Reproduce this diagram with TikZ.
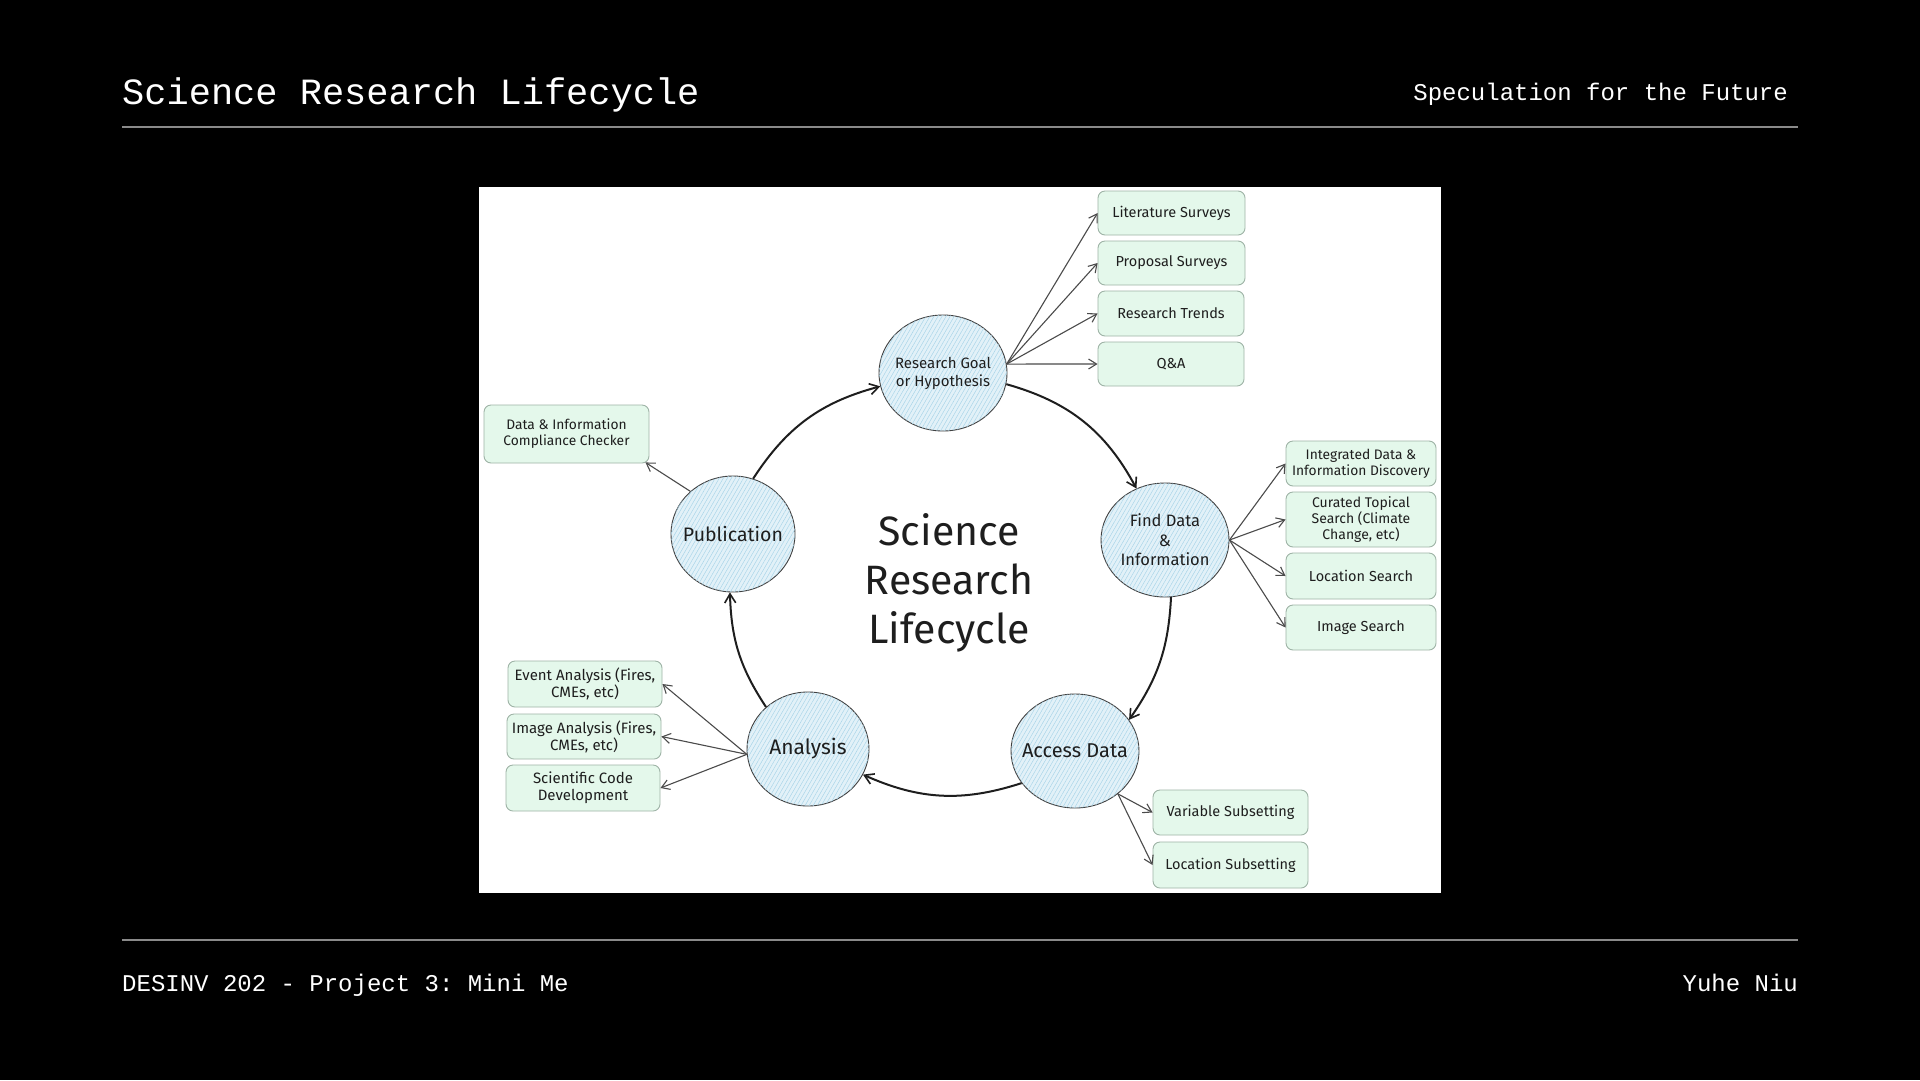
\documentclass[tikz,border=0pt]{standalone}
\usepackage{fontspec}
\setmonofont{Liberation Mono}
\newfontfamily\handfont{Fira Sans}
\usetikzlibrary{arrows.meta,patterns.meta,shapes.geometric}
\definecolor{cfill}{HTML}{E2F1F8}
\definecolor{hatch}{HTML}{A6D3E8}
\definecolor{bfill}{HTML}{E4F8EB}
\definecolor{bdraw}{HTML}{9EB3A6}
\definecolor{ink}{HTML}{1E1E1E}
\definecolor{rule}{HTML}{8A8A8A}
\tikzset{
  circ/.style={ellipse, draw=ink!85, line width=0.9, fill=cfill, inner sep=-16pt,
    minimum width=128, minimum height=114, align=center, text=ink,
    postaction={pattern={Lines[angle=60,distance=3.5pt,line width=0.45pt]}, pattern color=hatch}},
  box/.style={draw=bdraw, line width=0.9, fill=bfill, rounded corners=7, align=center,
    text=ink, inner sep=0pt, font=\handfont\fontsize{14.5}{17}\selectfont},
  cyc/.style={draw=ink, line width=2, -{Straight Barb[length=9pt,width=11pt,line width=1.6pt]}},
  fan/.style={draw=ink!80, line width=1.1, -{Straight Barb[length=8pt,width=10pt,line width=1.1pt]}},
  hdr/.style={text=white, inner sep=0pt}
}
\begin{document}
\begin{tikzpicture}[x=1pt,y=-1pt]
\fill[black] (0,0) rectangle (1920,1080);
\useasboundingbox (0,0) rectangle (1920,1080);
% header / footer
\node[hdr, anchor=base west, font=\ttfamily\fontsize{37}{40}\selectfont] (title) at (122,104) {Science Research Lifecycle};
\node[hdr, anchor=base east, font=\ttfamily\fontsize{24}{28}\selectfont] (sub) at (1788,100) {Speculation for the Future};
\draw[rule, line width=1.3] (122,127) -- (1798,127);
\draw[rule, line width=1.3] (122,940) -- (1798,940);
\node[hdr, anchor=base west, font=\ttfamily\fontsize{24}{28}\selectfont] (foot) at (122,991) {DESINV 202 - Project 3: Mini Me};
\node[hdr, anchor=base east, font=\ttfamily\fontsize{24}{28}\selectfont] (auth) at (1798,991) {Yuhe Niu};
% white panel
\fill[white] (479,187) rectangle (1441,893);
% center title
\node[text=ink, align=center, font=\handfont\fontsize{41}{49}\selectfont] (ctitle) at (949,583) {Science\\Research\\Lifecycle};
% circles
\node[circ, minimum height=116, font=\handfont\fontsize{15}{18}\selectfont] (rg) at (943,373) {Research Goal\\or Hypothesis};
\node[circ, font=\handfont\fontsize{16.5}{19.5}\selectfont] (fd) at (1165,540) {Find Data\\\&\\Information};
\node[circ, font=\handfont\fontsize{20}{22}\selectfont] (ad) at (1075,751) {Access Data};
\node[circ, minimum width=122, font=\handfont\fontsize{21}{23}\selectfont] (an) at (808,749) {Analysis};
\node[circ, minimum width=124, minimum height=116, font=\handfont\fontsize{19.5}{22}\selectfont] (pub) at (733,534) {Publication};
% boxes
\node[box, minimum width=147, minimum height=44] (lit) at (1171.5,213) {Literature Surveys};
\node[box, minimum width=147, minimum height=44] (prop) at (1171.5,263) {Proposal Surveys};
\node[box, minimum width=146, minimum height=45] (trend) at (1171,313.5) {Research Trends};
\node[box, minimum width=146, minimum height=44] (qa) at (1171,364) {Q\&A};
\node[box, minimum width=150, minimum height=45, font=\handfont\fontsize{13.8}{16}\selectfont] (integ) at (1361,463.5) {Integrated Data \&\\Information Discovery};
\node[box, minimum width=150, minimum height=55, font=\handfont\fontsize{14}{16}\selectfont] (cur) at (1361,519.5) {Curated Topical\\Search (Climate\\Change, etc)};
\node[box, minimum width=150, minimum height=46] (loc) at (1361,576) {Location Search};
\node[box, minimum width=150, minimum height=45] (img) at (1361,627.5) {Image Search};
\node[box, minimum width=165, minimum height=58, font=\handfont\fontsize{13.8}{16}\selectfont] (comp) at (566.5,434) {Data \& Information\\Compliance Checker};
\node[box, minimum width=154, minimum height=46, font=\handfont\fontsize{15}{17}\selectfont] (ev) at (585,684) {Event Analysis (Fires,\\CMEs, etc)};
\node[box, minimum width=154, minimum height=45, font=\handfont\fontsize{15}{17}\selectfont] (ia) at (584,736.5) {Image Analysis (Fires,\\CMEs, etc)};
\node[box, minimum width=154, minimum height=46, font=\handfont\fontsize{15}{17}\selectfont] (sci) at (583,788) {Scientific Code\\Development};
\node[box, minimum width=155, minimum height=45] (var) at (1230.5,812.5) {Variable Subsetting};
\node[box, minimum width=155, minimum height=46] (locs) at (1230.5,865) {Location Subsetting};
% cycle arrows
\draw[cyc] (rg.-10) to[bend left=23] (fd.119);
\draw[cyc] (fd.-84) to[bend left=16] (ad.30);
\draw[cyc] (ad.211) to[bend left=21] (an.-25);
\draw[cyc] (an.135) to[bend left=16] (pub.-93);
\draw[cyc] (pub.70) to[bend left=21] (rg.192);
% fan arrows
\draw[fan] (rg.8) -- (lit.west);
\draw[fan] (rg.8) -- (prop.west);
\draw[fan] (rg.8) -- (trend.west);
\draw[fan] (rg.8) -- (qa.west);
\draw[fan] (fd.east) -- (integ.west);
\draw[fan] (fd.east) -- (cur.west);
\draw[fan] (fd.east) -- (loc.west);
\draw[fan] (fd.east) -- (img.west);
\draw[fan] (pub.135) -- ([xshift=-4pt,yshift=1pt]comp.south east);
\draw[fan] (an.185) -- (ev.east);
\draw[fan] (an.185) -- (ia.east);
\draw[fan] (an.185) -- (sci.east);
\draw[fan] (ad.-45) -- (var.west);
\draw[fan] (ad.-45) -- (locs.west);
\end{tikzpicture}
\end{document}
